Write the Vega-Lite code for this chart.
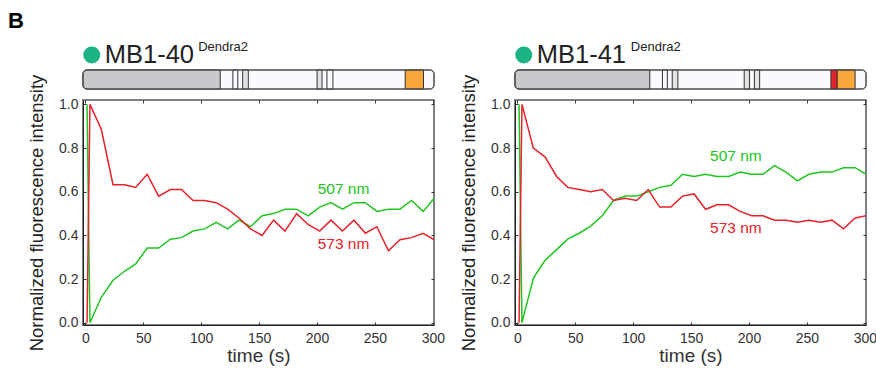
{
  "$schema": "https://vega.github.io/schema/vega-lite/v6.json",
  "padding": {"left": 7, "top": 10, "right": 5, "bottom": 5},
  "config": {
    "font": "Liberation Sans",
    "view": {"stroke": "#808080", "strokeWidth": 2},
    "axis": {"grid": false, "titleFontWeight": "normal"}
  },
  "datasets": {
    "headers": [
      {"panel": "L", "name": "MB1-40", "sup": "Dendra2", "nameX": 6.2, "supX": 32.8},
      {"panel": "R", "name": "MB1-41", "sup": "Dendra2", "nameX": 6.2, "supX": 33.0}
    ],
    "domains": [
      {"panel": "L", "start": 0, "end": 100, "kind": "bg"},
      {"panel": "L", "start": 0, "end": 39.1, "kind": "n"},
      {"panel": "L", "start": 42.7, "end": 44.1, "kind": "w"},
      {"panel": "L", "start": 45.5, "end": 47.1, "kind": "g"},
      {"panel": "L", "start": 66.7, "end": 68.1, "kind": "g"},
      {"panel": "L", "start": 69.5, "end": 71.2, "kind": "w"},
      {"panel": "L", "start": 91.8, "end": 97.0, "kind": "orange"},
      {"panel": "R", "start": 0, "end": 100, "kind": "bg"},
      {"panel": "R", "start": 0, "end": 38.4, "kind": "n"},
      {"panel": "R", "start": 42.0, "end": 43.4, "kind": "w"},
      {"panel": "R", "start": 44.8, "end": 46.4, "kind": "g"},
      {"panel": "R", "start": 65.3, "end": 66.8, "kind": "g"},
      {"panel": "R", "start": 68.2, "end": 69.7, "kind": "g"},
      {"panel": "R", "start": 90.0, "end": 91.8, "kind": "red"},
      {"panel": "R", "start": 91.8, "end": 96.9, "kind": "orange"}
    ],
    "labels": [
      {"panel": "L", "wl": "507", "label": "507 nm", "t": 200.6, "v": 0.588},
      {"panel": "L", "wl": "573", "label": "573 nm", "t": 200.6, "v": 0.338},
      {"panel": "R", "wl": "507", "label": "507 nm", "t": 166.4, "v": 0.741},
      {"panel": "R", "wl": "573", "label": "573 nm", "t": 166.4, "v": 0.41}
    ],
    "series": [
      {"panel":"L","wl":"507","t":1.5,"v":1.0},{"panel":"L","wl":"507","t":4,"v":0.0},{"panel":"L","wl":"507","t":13.8,"v":0.117},{"panel":"L","wl":"507","t":23.9,"v":0.195},{"panel":"L","wl":"507","t":33.9,"v":0.236},{"panel":"L","wl":"507","t":43.5,"v":0.27},{"panel":"L","wl":"507","t":53.4,"v":0.342},{"panel":"L","wl":"507","t":63.3,"v":0.342},{"panel":"L","wl":"507","t":73.4,"v":0.383},{"panel":"L","wl":"507","t":83,"v":0.39},{"panel":"L","wl":"507","t":93,"v":0.42},{"panel":"L","wl":"507","t":103,"v":0.43},{"panel":"L","wl":"507","t":113,"v":0.46},{"panel":"L","wl":"507","t":122.8,"v":0.43},{"panel":"L","wl":"507","t":132.6,"v":0.47},{"panel":"L","wl":"507","t":142.6,"v":0.44},{"panel":"L","wl":"507","t":152.6,"v":0.49},{"panel":"L","wl":"507","t":162.5,"v":0.5},{"panel":"L","wl":"507","t":172.4,"v":0.52},{"panel":"L","wl":"507","t":182.4,"v":0.52},{"panel":"L","wl":"507","t":192.3,"v":0.49},{"panel":"L","wl":"507","t":202.3,"v":0.53},{"panel":"L","wl":"507","t":212.1,"v":0.55},{"panel":"L","wl":"507","t":222,"v":0.52},{"panel":"L","wl":"507","t":231.9,"v":0.55},{"panel":"L","wl":"507","t":241.8,"v":0.55},{"panel":"L","wl":"507","t":251.7,"v":0.51},{"panel":"L","wl":"507","t":261.7,"v":0.52},{"panel":"L","wl":"507","t":271.6,"v":0.52},{"panel":"L","wl":"507","t":281.6,"v":0.56},{"panel":"L","wl":"507","t":291.6,"v":0.51},{"panel":"L","wl":"507","t":301.2,"v":0.57},
      {"panel":"L","wl":"573","t":1.5,"v":0.0},{"panel":"L","wl":"573","t":4,"v":1.0},{"panel":"L","wl":"573","t":13.8,"v":0.886},{"panel":"L","wl":"573","t":23.9,"v":0.632},{"panel":"L","wl":"573","t":33.9,"v":0.632},{"panel":"L","wl":"573","t":43.5,"v":0.62},{"panel":"L","wl":"573","t":53.4,"v":0.68},{"panel":"L","wl":"573","t":63.3,"v":0.58},{"panel":"L","wl":"573","t":73.4,"v":0.61},{"panel":"L","wl":"573","t":83,"v":0.61},{"panel":"L","wl":"573","t":93,"v":0.56},{"panel":"L","wl":"573","t":103,"v":0.56},{"panel":"L","wl":"573","t":113,"v":0.55},{"panel":"L","wl":"573","t":122.8,"v":0.52},{"panel":"L","wl":"573","t":132.6,"v":0.48},{"panel":"L","wl":"573","t":142.6,"v":0.43},{"panel":"L","wl":"573","t":152.6,"v":0.4},{"panel":"L","wl":"573","t":162.5,"v":0.47},{"panel":"L","wl":"573","t":172.4,"v":0.42},{"panel":"L","wl":"573","t":182.4,"v":0.5},{"panel":"L","wl":"573","t":192.3,"v":0.45},{"panel":"L","wl":"573","t":202.3,"v":0.42},{"panel":"L","wl":"573","t":212.1,"v":0.47},{"panel":"L","wl":"573","t":222,"v":0.42},{"panel":"L","wl":"573","t":231.9,"v":0.47},{"panel":"L","wl":"573","t":241.8,"v":0.41},{"panel":"L","wl":"573","t":251.7,"v":0.44},{"panel":"L","wl":"573","t":261.7,"v":0.33},{"panel":"L","wl":"573","t":271.6,"v":0.38},{"panel":"L","wl":"573","t":281.6,"v":0.39},{"panel":"L","wl":"573","t":291.6,"v":0.41},{"panel":"L","wl":"573","t":301.2,"v":0.38},
      {"panel":"R","wl":"507","t":1.5,"v":1.0},{"panel":"R","wl":"507","t":4,"v":0.0},{"panel":"R","wl":"507","t":13.8,"v":0.204},{"panel":"R","wl":"507","t":23.9,"v":0.286},{"panel":"R","wl":"507","t":33.9,"v":0.335},{"panel":"R","wl":"507","t":43.5,"v":0.383},{"panel":"R","wl":"507","t":53.4,"v":0.41},{"panel":"R","wl":"507","t":63.3,"v":0.443},{"panel":"R","wl":"507","t":73.4,"v":0.49},{"panel":"R","wl":"507","t":83,"v":0.56},{"panel":"R","wl":"507","t":93,"v":0.58},{"panel":"R","wl":"507","t":103,"v":0.58},{"panel":"R","wl":"507","t":113,"v":0.6},{"panel":"R","wl":"507","t":122.8,"v":0.62},{"panel":"R","wl":"507","t":132.6,"v":0.63},{"panel":"R","wl":"507","t":142.6,"v":0.68},{"panel":"R","wl":"507","t":152.6,"v":0.67},{"panel":"R","wl":"507","t":162.5,"v":0.68},{"panel":"R","wl":"507","t":172.4,"v":0.67},{"panel":"R","wl":"507","t":182.4,"v":0.67},{"panel":"R","wl":"507","t":192.3,"v":0.69},{"panel":"R","wl":"507","t":202.3,"v":0.68},{"panel":"R","wl":"507","t":212.1,"v":0.68},{"panel":"R","wl":"507","t":222,"v":0.72},{"panel":"R","wl":"507","t":231.9,"v":0.69},{"panel":"R","wl":"507","t":241.8,"v":0.65},{"panel":"R","wl":"507","t":251.7,"v":0.68},{"panel":"R","wl":"507","t":261.7,"v":0.69},{"panel":"R","wl":"507","t":271.6,"v":0.69},{"panel":"R","wl":"507","t":281.6,"v":0.71},{"panel":"R","wl":"507","t":291.6,"v":0.71},{"panel":"R","wl":"507","t":301.2,"v":0.68},
      {"panel":"R","wl":"573","t":1.5,"v":0.0},{"panel":"R","wl":"573","t":4,"v":1.0},{"panel":"R","wl":"573","t":13.8,"v":0.8},{"panel":"R","wl":"573","t":23.9,"v":0.76},{"panel":"R","wl":"573","t":33.9,"v":0.67},{"panel":"R","wl":"573","t":43.5,"v":0.62},{"panel":"R","wl":"573","t":53.4,"v":0.61},{"panel":"R","wl":"573","t":63.3,"v":0.6},{"panel":"R","wl":"573","t":73.4,"v":0.61},{"panel":"R","wl":"573","t":83,"v":0.56},{"panel":"R","wl":"573","t":93,"v":0.57},{"panel":"R","wl":"573","t":103,"v":0.56},{"panel":"R","wl":"573","t":113,"v":0.61},{"panel":"R","wl":"573","t":122.8,"v":0.53},{"panel":"R","wl":"573","t":132.6,"v":0.53},{"panel":"R","wl":"573","t":142.6,"v":0.58},{"panel":"R","wl":"573","t":152.6,"v":0.59},{"panel":"R","wl":"573","t":162.5,"v":0.52},{"panel":"R","wl":"573","t":172.4,"v":0.54},{"panel":"R","wl":"573","t":182.4,"v":0.54},{"panel":"R","wl":"573","t":192.3,"v":0.51},{"panel":"R","wl":"573","t":202.3,"v":0.49},{"panel":"R","wl":"573","t":212.1,"v":0.49},{"panel":"R","wl":"573","t":222,"v":0.47},{"panel":"R","wl":"573","t":231.9,"v":0.47},{"panel":"R","wl":"573","t":241.8,"v":0.46},{"panel":"R","wl":"573","t":251.7,"v":0.47},{"panel":"R","wl":"573","t":261.7,"v":0.46},{"panel":"R","wl":"573","t":271.6,"v":0.47},{"panel":"R","wl":"573","t":281.6,"v":0.43},{"panel":"R","wl":"573","t":291.6,"v":0.48},{"panel":"R","wl":"573","t":301.2,"v":0.49}
    ]
  },
  "concat": [
    {
      "width": 351, "height": 30,
      "view": {"stroke": null},
      "layer": [
        {
          "data": {"values": [{"tag": "B", "x": -21.37}]},
          "mark": {"type": "text", "align": "left", "baseline": "alphabetic", "fontSize": 22, "fontWeight": "bold", "color": "#000"},
          "encoding": {
            "x": {"field": "x", "type": "quantitative", "scale": {"domain": [0, 100], "nice": false, "zero": false}, "axis": null},
            "y": {"datum": 1.033, "type": "quantitative", "scale": {"domain": [0, 1], "nice": false, "zero": false}, "axis": null},
            "text": {"field": "tag"}
          }
        },
        {
          "data": {"name": "headers"},
          "transform": [{"filter": "datum.panel == 'L'"}],
          "mark": {"type": "circle", "size": 290, "opacity": 1, "color": "#1db386"},
          "encoding": {"x": {"datum": 2.5, "type": "quantitative"}, "y": {"datum": 0.133, "type": "quantitative"}}
        },
        {
          "data": {"name": "headers"},
          "transform": [{"filter": "datum.panel == 'L'"}],
          "mark": {"type": "text", "align": "left", "baseline": "alphabetic", "fontSize": 25.5, "color": "#222"},
          "encoding": {"x": {"field": "nameX", "type": "quantitative"}, "y": {"datum": -0.133, "type": "quantitative"}, "text": {"field": "name"}}
        },
        {
          "data": {"name": "headers"},
          "transform": [{"filter": "datum.panel == 'L'"}],
          "mark": {"type": "text", "align": "left", "baseline": "alphabetic", "fontSize": 13, "color": "#222"},
          "encoding": {"x": {"field": "supX", "type": "quantitative"}, "y": {"datum": 0.267, "type": "quantitative"}, "text": {"field": "sup"}}
        }
      ]
    },
    {
      "width": 351, "height": 30,
      "view": {"stroke": null},
      "data": {"name": "headers"},
      "transform": [{"filter": "datum.panel == 'R'"}],
      "layer": [
        {
          "mark": {"type": "circle", "size": 290, "opacity": 1, "color": "#1db386"},
          "encoding": {
            "x": {"datum": 2.5, "type": "quantitative", "scale": {"domain": [0, 100], "nice": false, "zero": false}, "axis": null},
            "y": {"datum": 0.133, "type": "quantitative", "scale": {"domain": [0, 1], "nice": false, "zero": false}, "axis": null}
          }
        },
        {
          "mark": {"type": "text", "align": "left", "baseline": "alphabetic", "fontSize": 25.5, "color": "#222"},
          "encoding": {"x": {"field": "nameX", "type": "quantitative"}, "y": {"datum": -0.133, "type": "quantitative"}, "text": {"field": "name"}}
        },
        {
          "mark": {"type": "text", "align": "left", "baseline": "alphabetic", "fontSize": 13, "color": "#222"},
          "encoding": {"x": {"field": "supX", "type": "quantitative"}, "y": {"datum": 0.267, "type": "quantitative"}, "text": {"field": "sup"}}
        }
      ]
    },
    {
      "width": 351, "height": 19,
      "view": {"stroke": null},
      "data": {"name": "domains"},
      "transform": [{"filter": "datum.panel == 'L'"}],
      "encoding": {
        "x": {"field": "start", "type": "quantitative", "scale": {"domain": [0, 100], "nice": false, "zero": false}, "axis": null},
        "x2": {"field": "end"},
        "fill": {"field": "kind", "type": "nominal", "scale": {"domain": ["bg", "n", "w", "g", "red", "orange"], "range": ["#f9f9fe", "#c8c9cc", "#f9f9fe", "#e3e3e6", "#e3232a", "#f8a73b"]}, "legend": null}
      },
      "layer": [
        {"transform": [{"filter": "datum.kind == 'bg'"}], "mark": {"type": "rect", "cornerRadius": 4, "stroke": "#4a4a4a", "strokeWidth": 1}},
        {"transform": [{"filter": "datum.kind == 'n'"}], "mark": {"type": "rect", "cornerRadiusTopLeft": 4, "cornerRadiusBottomLeft": 4, "stroke": "#333", "strokeWidth": 1}},
        {"transform": [{"filter": "datum.kind != 'bg' && datum.kind != 'n'"}], "mark": {"type": "rect", "stroke": "#333", "strokeWidth": 1}},
        {"transform": [{"filter": "datum.kind == 'bg'"}], "mark": {"type": "rect", "cornerRadius": 4, "fillOpacity": 0, "stroke": "#4a4a4a", "strokeWidth": 1}}
      ]
    },
    {
      "width": 351, "height": 19,
      "view": {"stroke": null},
      "data": {"name": "domains"},
      "transform": [{"filter": "datum.panel == 'R'"}],
      "encoding": {
        "x": {"field": "start", "type": "quantitative", "scale": {"domain": [0, 100], "nice": false, "zero": false}, "axis": null},
        "x2": {"field": "end"},
        "fill": {"field": "kind", "type": "nominal", "scale": {"domain": ["bg", "n", "w", "g", "red", "orange"], "range": ["#f9f9fe", "#c8c9cc", "#f9f9fe", "#e3e3e6", "#e3232a", "#f8a73b"]}, "legend": null}
      },
      "layer": [
        {"transform": [{"filter": "datum.kind == 'bg'"}], "mark": {"type": "rect", "cornerRadius": 4, "stroke": "#4a4a4a", "strokeWidth": 1}},
        {"transform": [{"filter": "datum.kind == 'n'"}], "mark": {"type": "rect", "cornerRadiusTopLeft": 4, "cornerRadiusBottomLeft": 4, "stroke": "#333", "strokeWidth": 1}},
        {"transform": [{"filter": "datum.kind != 'bg' && datum.kind != 'n'"}], "mark": {"type": "rect", "stroke": "#333", "strokeWidth": 1}},
        {"transform": [{"filter": "datum.kind == 'bg'"}], "mark": {"type": "rect", "cornerRadius": 4, "fillOpacity": 0, "stroke": "#4a4a4a", "strokeWidth": 1}}
      ]
    },
    {
      "width": 351, "height": 225,
      "layer": [
        {
          "data": {"name": "series"},
          "transform": [{"filter": "datum.panel == 'L'"}],
          "mark": {"type": "line", "strokeWidth": 1.5, "clip": true},
          "encoding": {
            "x": {"field": "t", "type": "quantitative", "scale": {"domain": [-2, 301], "nice": false, "zero": false},
              "axis": {"orient": "bottom", "values": [0, 50, 100, 150, 200, 250, 300], "format": "d", "title": "time (s)", "titleFontSize": 19, "titleFontWeight": "normal", "titleColor": "#333", "titlePadding": 1, "labelFontSize": 14, "labelColor": "#333", "labelPadding": 9, "tickSize": -3, "tickColor": "#333", "domainColor": "#222", "labelFlush": false, "labelOverlap": false}},
            "y": {"field": "v", "type": "quantitative", "scale": {"domain": [-0.01, 1.02], "nice": false, "zero": false},
              "axis": {"orient": "left", "values": [0, 0.2, 0.4, 0.6, 0.8, 1], "format": ".1f", "title": "Normalized fluorescence intensity", "titleFontSize": 18.5, "titleFontWeight": "normal", "titleColor": "#222", "titlePadding": 12, "labelFontSize": 14, "labelColor": "#333", "labelPadding": 8, "tickSize": -3, "tickColor": "#333", "domainColor": "#222", "labelFlush": false, "labelOverlap": false}},
            "color": {"field": "wl", "type": "nominal", "scale": {"domain": ["507", "573"], "range": ["#21c521", "#e8212a"]}, "legend": null}
          }
        },
        {
          "data": {"name": "labels"},
          "transform": [{"filter": "datum.panel == 'L'"}],
          "mark": {"type": "text", "align": "left", "baseline": "alphabetic", "fontSize": 15.5},
          "encoding": {
            "x": {"field": "t", "type": "quantitative", "axis": {"orient": "top", "values": [0, 50, 100, 150, 200, 250, 300], "labels": false, "title": null, "tickSize": -3, "tickColor": "#333", "domain": false}},
            "y": {"field": "v", "type": "quantitative", "axis": {"orient": "right", "values": [0, 0.2, 0.4, 0.6, 0.8, 1], "labels": false, "title": null, "tickSize": -3, "tickColor": "#333", "domain": false}},
            "text": {"field": "label"},
            "color": {"field": "wl", "type": "nominal", "legend": null}
          }
        }
      ],
      "resolve": {"axis": {"x": "independent", "y": "independent"}}
    },
    {
      "width": 351, "height": 225,
      "layer": [
        {
          "data": {"name": "series"},
          "transform": [{"filter": "datum.panel == 'R'"}],
          "mark": {"type": "line", "strokeWidth": 1.5, "clip": true},
          "encoding": {
            "x": {"field": "t", "type": "quantitative", "scale": {"domain": [-2, 301], "nice": false, "zero": false},
              "axis": {"orient": "bottom", "values": [0, 50, 100, 150, 200, 250, 300], "format": "d", "title": "time (s)", "titleFontSize": 19, "titleFontWeight": "normal", "titleColor": "#333", "titlePadding": 1, "labelFontSize": 14, "labelColor": "#333", "labelPadding": 9, "tickSize": -3, "tickColor": "#333", "domainColor": "#222", "labelFlush": false, "labelOverlap": false}},
            "y": {"field": "v", "type": "quantitative", "scale": {"domain": [-0.01, 1.02], "nice": false, "zero": false},
              "axis": {"orient": "left", "values": [0, 0.2, 0.4, 0.6, 0.8, 1], "format": ".1f", "title": "Normalized fluorescence intensity", "titleFontSize": 18.5, "titleFontWeight": "normal", "titleColor": "#222", "titlePadding": 12, "labelFontSize": 14, "labelColor": "#333", "labelPadding": 8, "tickSize": -3, "tickColor": "#333", "domainColor": "#222", "labelFlush": false, "labelOverlap": false}},
            "color": {"field": "wl", "type": "nominal", "scale": {"domain": ["507", "573"], "range": ["#21c521", "#e8212a"]}, "legend": null}
          }
        },
        {
          "data": {"name": "labels"},
          "transform": [{"filter": "datum.panel == 'R'"}],
          "mark": {"type": "text", "align": "left", "baseline": "alphabetic", "fontSize": 15.5},
          "encoding": {
            "x": {"field": "t", "type": "quantitative", "axis": {"orient": "top", "values": [0, 50, 100, 150, 200, 250, 300], "labels": false, "title": null, "tickSize": -3, "tickColor": "#333", "domain": false}},
            "y": {"field": "v", "type": "quantitative", "axis": {"orient": "right", "values": [0, 0.2, 0.4, 0.6, 0.8, 1], "labels": false, "title": null, "tickSize": -3, "tickColor": "#333", "domain": false}},
            "text": {"field": "label"},
            "color": {"field": "wl", "type": "nominal", "legend": null}
          }
        }
      ],
      "resolve": {"axis": {"x": "independent", "y": "independent"}}
    }
  ],
  "columns": 2,
  "spacing": {"row": 11, "column": 81},
  "bounds": "flush"
}
